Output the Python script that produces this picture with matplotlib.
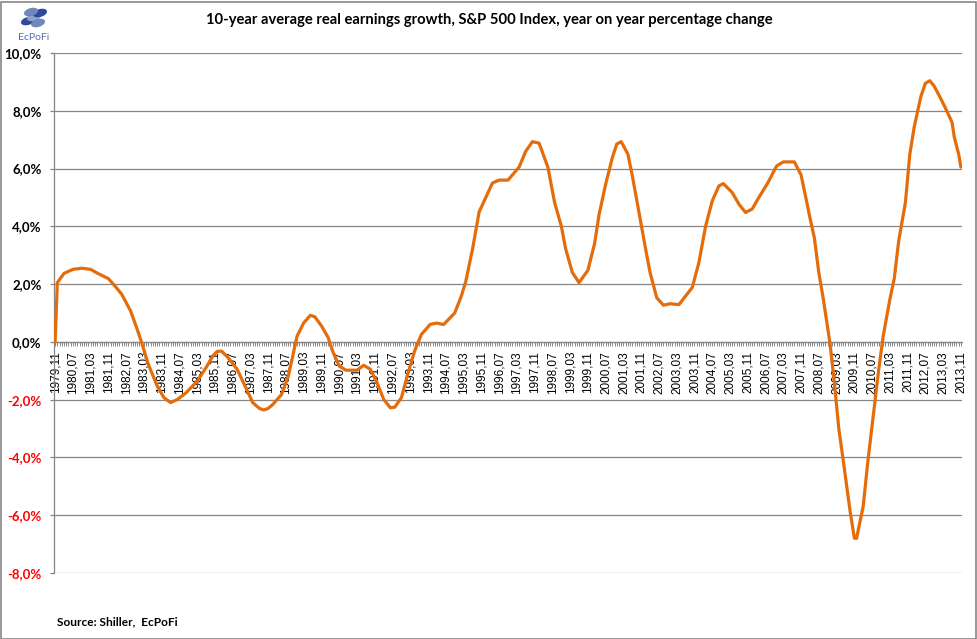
import numpy as np
import pandas as pd
import matplotlib.pyplot as plt
from matplotlib.patches import Rectangle, Ellipse

#---- data ----
# month number counted from 1979,11 (=0) up to 2013,11 (=408)
month_no = [0, 1, 4, 8, 12, 16, 19, 24, 27, 30, 34, 37, 39, 42, 46, 49, 52, 55, 59, 64,
            68, 71, 73, 75, 78, 82, 86, 89, 92, 94, 96, 98, 102, 105, 107, 109, 112, 115, 117, 120,
            123, 125, 128, 131, 136, 139, 142, 145, 148, 151, 153, 156, 159, 162, 165, 169, 172, 175, 180, 183,
            185, 188, 191, 194, 197, 200, 204, 209, 212, 215, 218, 222, 225, 228, 230, 233, 236, 240, 243, 245,
            248, 251, 253, 255, 258, 260, 263, 266, 268, 271, 274, 277, 281, 284, 287, 290, 293, 296, 299, 301,
            305, 308, 311, 314, 317, 321, 325, 328, 333, 336, 338, 340, 342, 344, 346, 349, 351, 353, 355, 358,
            360, 361, 364, 366, 368, 371, 373, 376, 378, 380, 383, 385, 387, 390, 392, 394, 396, 399, 401, 404,
            405, 407, 408]
growth = [0.0, 2.05, 2.37, 2.51, 2.55, 2.51, 2.38, 2.19, 1.93, 1.65, 1.07, 0.43, -0.03, -0.78, -1.53, -1.93, -2.1, -2.0, -1.76, -1.36,
          -0.89, -0.49, -0.33, -0.32, -0.55, -0.95, -1.6, -2.1, -2.3, -2.36, -2.3, -2.17, -1.82, -1.2, -0.5, 0.2, 0.66, 0.92, 0.87, 0.55,
          0.15, -0.32, -0.84, -0.98, -0.98, -0.81, -0.95, -1.41, -1.99, -2.28, -2.26, -1.93, -1.07, -0.3, 0.26, 0.61, 0.65, 0.6, 1.0, 1.59,
          2.1, 3.2, 4.5, 5.0, 5.5, 5.6, 5.6, 6.05, 6.6, 6.93, 6.88, 6.04, 4.82, 4.01, 3.21, 2.4, 2.05, 2.48, 3.4, 4.4,
          5.46, 6.38, 6.85, 6.93, 6.5, 5.75, 4.48, 3.21, 2.4, 1.53, 1.27, 1.32, 1.29, 1.59, 1.88, 2.75, 4.0, 4.88, 5.4, 5.48,
          5.17, 4.77, 4.48, 4.6, 5.0, 5.5, 6.09, 6.23, 6.23, 5.78, 5.05, 4.3, 3.6, 2.4, 1.5, -0.03, -1.4, -3.0, -4.1, -5.81,
          -6.79, -6.8, -5.69, -4.2, -2.9, -0.95, 0.2, 1.47, 2.2, 3.5, 4.82, 6.5, 7.45, 8.5, 8.95, 9.04, 8.85, 8.41, 8.1, 7.6,
          7.1, 6.5, 6.05]

periods = pd.period_range('1979-11', '2013-11', freq='M')
tick_labels = [p.strftime('%Y,%m') for p in periods]
y_ticks = [-8, -6, -4, -2, 0, 2, 4, 6, 8, 10]

title = '10-year average real earnings growth, S&P 500 Index, year on year percentage change'
source = 'Source: Shiller,  EcPoFi'

#---- plotting ----
plt.rcParams['font.family'] = 'Lato'
grey = '#868686'
orange = '#E46C0A'

fig = plt.figure(figsize=(9.77, 6.39), dpi=100)
ax = fig.add_axes([54 / 977, 66 / 639, 908 / 977, 520 / 639])

ax.plot(month_no, growth, color=orange, lw=2.3, solid_joinstyle='round', solid_capstyle='round', zorder=3)

ax.set_xlim(-0.5, len(periods) - 0.5)
ax.set_ylim(-8, 10)

# gridlines
ax.set_yticks(y_ticks)
ax.yaxis.grid(True, color=grey, lw=0.9)
ax.set_axisbelow(True)

for s in ['top', 'right']:
    ax.spines[s].set_visible(False)
ax.spines['left'].set_color(grey)
ax.spines['left'].set_linewidth(0.9)
ax.spines['bottom'].set_position(('data', 0))
ax.spines['bottom'].set_color(grey)
ax.spines['bottom'].set_linewidth(0.9)

# x axis: tick mark every month, label every 8 months
ax.set_xticks(range(len(periods)))
ax.set_xticklabels([lab if i % 8 == 0 else '' for i, lab in enumerate(tick_labels)],
                   rotation=90, fontsize=8.5, family='Liberation Sans')
ax.tick_params(axis='x', direction='out', length=3, width=0.7, color=grey, pad=3.5)

ylabs = [('%.1f%%' % v).replace('.', ',') for v in y_ticks]
ax.set_yticklabels(ylabs, fontsize=9.5, fontweight='bold')
ax.tick_params(axis='y', direction='out', length=3, width=0.9, color=grey, pad=6)
for lab, v in zip(ax.get_yticklabels(), y_ticks):
    lab.set_color('red' if v < 0 else 'black')

fig.text(489 / 977, 1 - 20 / 639, title, ha='center', va='center', fontsize=10.65, fontweight='bold')
fig.text(57 / 977, 1 - 622 / 639, source, ha='left', va='center', fontsize=8.6, fontweight='bold')

# little EcPoFi logo
fig.text(34 / 977, 1 - 38 / 639, 'EcPoFi', ha='center', va='center', fontsize=7.5, color='#4F6FB0')
for dx, dy, c in [(-6, 4, '#2D4B9A'), (0, 0, '#8FA0C8'), (6, -4, '#2D4B9A'), (-3, -5, '#6F86BF'), (4, 6, '#6F86BF')]:
    e = Ellipse(((34 + dx) / 977, 1 - (17 + dy) / 639), 14 / 977, 6 / 639, angle=35,
                transform=fig.transFigure, color=c, zorder=5)
    fig.patches.append(e)

# outer frame
fig.patches.append(Rectangle((0.5 / 977, 0.5 / 639), 975 / 977, 637 / 639, transform=fig.transFigure,
                             fill=False, edgecolor=grey, lw=1.2))

fig.savefig('out.png', dpi=100)
